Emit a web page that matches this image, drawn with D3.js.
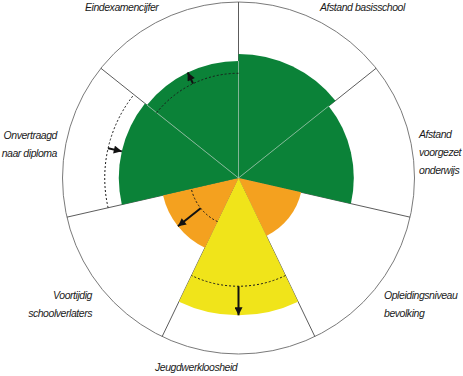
<!doctype html>
<html>
  <head>
    <script src="https://d3js.org/d3.v7.min.js"></script>
    <style>
      body { margin: 0; background: #fff; }
      text { font-family: "Liberation Sans", Arial, Helvetica, sans-serif;
             font-style: italic;
             font-size: 10.5px;
             letter-spacing: -0.45px;
             fill: #1a1a1a; }
    </style>
  </head>
  <body>
    <div id="chart"></div>
    <script>
      // categories, clockwise starting at 12 o'clock
      var categories = ["Afstand basisschool", "Afstand voorgezet onderwijs",
                        "Opleidingsniveau bevolking", "Jeugdwerkloosheid",
                        "Voortijdig schoolverlaters", "Onvertraagd naar diploma",
                        "Eindexamencijfer"];
      // length of each wedge (0-100 = centre to outer ring)
      var values = [70.5, 65.5, 36.5, 78, 44, 68, 66.5];
      // dashed reference level, null where none is drawn
      var reference = [null, null, null, 61.5, 27.5, 76, 59.5];
      // score class per category (window.status is taken, so another name)
      var levels = ["groen", "groen", "oranje", "geel", "oranje", "groen", "groen"];
      // label lines per category
      var labelLines = [["Afstand basisschool"], ["Afstand", "voorgezet", "onderwijs"],
                        ["Opleidingsniveau", "bevolking"], ["Jeugdwerkloosheid"],
                        ["Voortijdig", "schoolverlaters"], ["Onvertraagd", "naar diploma"],
                        ["Eindexamencijfer"]];

      var width = 463, height = 376;
      var cx = 238.5, cy = 178, R = 176;
      var colors = {groen: "#0b8238", oranje: "#f4a11f", geel: "#f0e41a"};

      // where the labels sit (layout only)
      var labelPos = [
        {x: 320, y: 8, anchor: "start"},
        {x: 419, y: 135, anchor: "start"},
        {x: 384, y: 296, anchor: "start"},
        {x: 155, y: 368, anchor: "start"},
        {x: 92, y: 296, anchor: "end"},
        {x: 57, y: 136, anchor: "end"},
        {x: 85, y: 8, anchor: "start"}
      ];

      var n = categories.length;
      var step = 2 * Math.PI / n;
      var r = d3.scaleLinear().domain([0, 100]).range([0, R]);

      var svg = d3.select("#chart").append("svg")
        .attr("width", width).attr("height", height);

      svg.append("defs").append("marker")
        .attr("id", "head")
        .attr("viewBox", "0 0 10 10")
        .attr("refX", 10).attr("refY", 5)
        .attr("markerWidth", 9).attr("markerHeight", 8)
        .attr("markerUnits", "userSpaceOnUse")
        .attr("orient", "auto")
        .append("path").attr("d", "M0,0L10,5L0,10z").attr("fill", "#111");

      var g = svg.append("g").attr("transform", "translate(" + cx + "," + cy + ")");

      var pt = function(a, rad) { return [Math.sin(a) * rad, -Math.cos(a) * rad]; };

      // outer ring
      g.append("circle").attr("r", R)
        .attr("fill", "none").attr("stroke", "#7a7a7a").attr("stroke-width", 1);

      // dark dividers (visible outside the wedges)
      g.selectAll(".div").data(d3.range(n)).enter().append("line")
        .attr("x1", 0).attr("y1", 0)
        .attr("x2", function(i) { return pt(i * step, R)[0]; })
        .attr("y2", function(i) { return pt(i * step, R)[1]; })
        .attr("stroke", "#4a4a4a").attr("stroke-width", 0.9);

      // wedges
      var arc = d3.arc().innerRadius(0);
      g.selectAll(".wedge").data(values).enter().append("path")
        .attr("d", function(d, i) {
          return arc({outerRadius: r(d), startAngle: i * step, endAngle: (i + 1) * step});
        })
        .attr("fill", function(d, i) { return colors[levels[i]]; });

      // pale dividers between wedges of the same colour
      d3.range(n).forEach(function(i) {
        var j = (i - 1 + n) % n;
        if (levels[i] !== levels[j]) return;
        var e = pt(i * step, r(Math.min(values[i], values[j])));
        g.append("line").attr("x1", 0).attr("y1", 0).attr("x2", e[0]).attr("y2", e[1])
          .attr("stroke", "#ffffff").attr("stroke-opacity", 0.45).attr("stroke-width", 1);
      });

      // dashed reference arcs and arrows
      reference.forEach(function(ref, i) {
        if (ref === null) return;
        var p = d3.path();
        p.arc(0, 0, r(ref), i * step - Math.PI / 2, (i + 1) * step - Math.PI / 2);
        g.append("path").attr("d", p.toString())
          .attr("fill", "none").attr("stroke", "#1a1a1a")
          .attr("stroke-width", 1).attr("stroke-dasharray", "2,2");

        var mid = (i + 0.5) * step;
        var a = pt(mid, r(ref)), b = pt(mid, r(values[i]));
        g.append("line")
          .attr("x1", a[0]).attr("y1", a[1]).attr("x2", b[0]).attr("y2", b[1])
          .attr("stroke", "#111").attr("stroke-width", 2)
          .attr("marker-end", "url(#head)");
      });

      // labels
      labelLines.forEach(function(lines, i) {
        var lp = labelPos[i];
        var t = svg.append("text")
          .attr("text-anchor", lp.anchor)
          .attr("dominant-baseline", "middle");
        lines.forEach(function(s, k) {
          t.append("tspan").attr("x", lp.x).attr("y", lp.y + k * 17.8).text(s);
        });
      });
    </script>
  </body>
</html>
